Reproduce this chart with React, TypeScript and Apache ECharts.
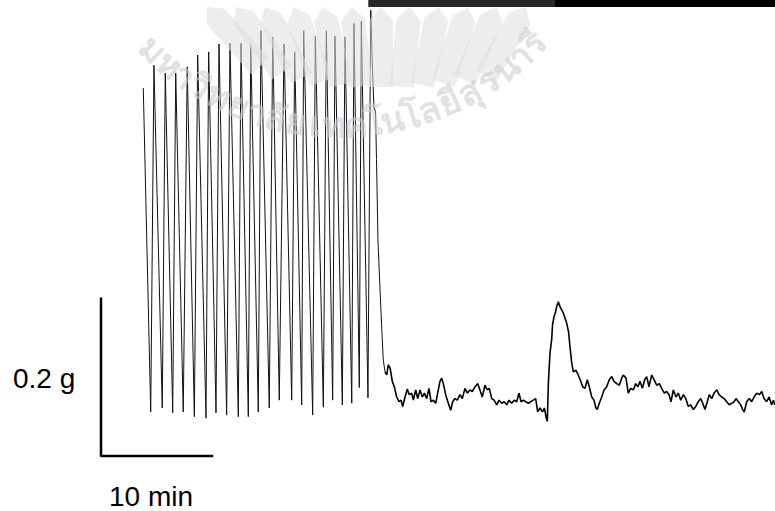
import React, { useEffect, useRef } from "react";
import * as echarts from "echarts";

// ---- Data (time in min, force in g) ----
const peakTimes = [3.81, 4.77, 5.79, 6.73, 7.77, 8.71, 9.70, 10.63, 11.62, 12.61, 13.49, 14.41, 15.47, 16.49, 17.45, 18.26, 19.31, 20.30, 21.08, 21.98, 22.79, 23.45, 24.30];
const peakForces = [0.468, 0.497, 0.487, 0.487, 0.495, 0.510, 0.514, 0.524, 0.525, 0.525, 0.523, 0.541, 0.533, 0.524, 0.514, 0.541, 0.534, 0.541, 0.534, 0.533, 0.550, 0.553, 0.567];
const troughTimes = [4.48, 5.52, 6.46, 7.41, 8.41, 9.46, 10.36, 11.32, 12.37, 13.27, 14.17, 15.16, 16.06, 17.18, 18.08, 19.07, 20.03, 20.87, 21.74, 22.59, 23.27, 24.05];
const troughForces = [0.056, 0.061, 0.055, 0.056, 0.050, 0.048, 0.055, 0.052, 0.050, 0.050, 0.056, 0.061, 0.071, 0.071, 0.065, 0.052, 0.062, 0.071, 0.065, 0.067, 0.087, 0.074];

const dropTimes = [24.46, 24.59, 24.73, 24.82, 24.95, 25.14, 25.32, 25.43, 25.59];
const dropForces = [0.491, 0.443, 0.438, 0.377, 0.275, 0.211, 0.154, 0.122, 0.107];

const baselineTimes = [
  25.74, 25.88, 26.04, 26.13, 26.24, 26.42, 26.64, 26.85, 27.03, 27.18,
  27.39, 27.59, 27.77, 27.99, 28.14, 28.35, 28.53, 28.74, 28.95, 29.13,
  29.34, 29.55, 29.73, 29.94, 30.15, 30.33, 30.54, 30.69, 30.84, 31.05,
  31.29, 31.50, 31.68, 31.89, 32.10, 32.34, 32.55, 32.79, 33.00, 33.24,
  33.45, 33.69, 33.94, 34.14, 34.35, 34.59, 34.80, 34.98, 35.20, 35.41,
  35.65, 35.86, 36.10, 36.33, 36.55, 36.76, 37.00, 37.23, 37.45, 37.66,
  37.84, 38.05, 38.26, 38.50, 38.71, 38.95, 39.16, 39.34, 39.55, 39.76,
  39.94, 40.12, 40.21, 40.30, 40.45, 40.60, 40.68, 40.81, 40.95, 41.05,
  41.20, 41.41, 41.65, 41.95, 42.12, 42.25, 42.41, 42.55, 42.79, 43.00,
  43.22, 43.40, 43.60, 43.81, 43.99, 44.21, 44.41, 44.59, 44.71, 44.89,
  45.11, 45.32, 45.56, 45.79, 46.01, 46.22, 46.46, 46.69, 46.91, 47.05,
  47.30, 47.50, 47.72, 47.95, 48.17, 48.38, 48.56, 48.77, 48.98, 49.16,
  49.37, 49.61, 49.82, 50.06, 50.30, 50.51, 50.75, 50.96, 51.17, 51.35,
  51.56, 51.80, 52.01, 52.23, 52.46, 52.68, 52.91, 53.13, 53.36, 53.58,
  53.81, 54.03, 54.21, 54.41, 54.62, 54.80, 55.02, 55.23, 55.47, 55.68,
  55.92, 56.13, 56.37, 56.60, 56.82, 57.03, 57.21, 57.41, 57.63, 57.81,
  57.95, 58.17, 58.41, 58.62, 58.83, 59.07, 59.31, 59.52, 59.73, 59.97,
  60.18, 60.42, 60.57, 60.72,
];
const baselineForces = [
  0.103, 0.116, 0.112, 0.105, 0.095, 0.088, 0.075, 0.069, 0.071, 0.063,
  0.075, 0.085, 0.078, 0.080, 0.071, 0.084, 0.073, 0.084, 0.075, 0.080,
  0.073, 0.086, 0.069, 0.071, 0.067, 0.080, 0.095, 0.099, 0.092, 0.078,
  0.067, 0.058, 0.069, 0.073, 0.071, 0.078, 0.073, 0.086, 0.080, 0.084,
  0.082, 0.088, 0.092, 0.084, 0.075, 0.090, 0.084, 0.086, 0.073, 0.071,
  0.065, 0.071, 0.067, 0.069, 0.065, 0.071, 0.067, 0.071, 0.069, 0.080,
  0.069, 0.071, 0.069, 0.067, 0.069, 0.071, 0.073, 0.056, 0.061, 0.056,
  0.061, 0.048, 0.044, 0.092, 0.131, 0.148, 0.167, 0.177, 0.183, 0.190,
  0.196, 0.188, 0.182, 0.169, 0.158, 0.139, 0.118, 0.107, 0.109, 0.103,
  0.095, 0.088, 0.086, 0.097, 0.088, 0.075, 0.071, 0.061, 0.059, 0.067,
  0.075, 0.084, 0.088, 0.097, 0.101, 0.095, 0.092, 0.090, 0.099, 0.103,
  0.099, 0.080, 0.086, 0.084, 0.092, 0.088, 0.095, 0.086, 0.097, 0.101,
  0.088, 0.103, 0.097, 0.090, 0.092, 0.086, 0.080, 0.082, 0.078, 0.069,
  0.084, 0.075, 0.080, 0.071, 0.078, 0.073, 0.063, 0.065, 0.059, 0.063,
  0.069, 0.073, 0.067, 0.059, 0.069, 0.078, 0.073, 0.080, 0.084, 0.078,
  0.075, 0.073, 0.069, 0.065, 0.067, 0.069, 0.073, 0.069, 0.065, 0.059,
  0.056, 0.069, 0.073, 0.069, 0.075, 0.080, 0.078, 0.082, 0.073, 0.069,
  0.075, 0.065, 0.071, 0.065,
];

// Drug application bar (min)
const drugBarStart = 24.08;
const drugBarSplit = 40.9;
const drugBarEnd = 60.72;

// Scale bars
const scaleTime = 10; // min
const scaleForce = 0.2; // g
const scaleForceLabel = "0.2 g";
const scaleTimeLabel = "10 min";

// Watermark text (grapheme clusters)
const watermarkClusters = ["ม", "ห", "า", "วิ", "ท", "ย", "า", "ลั", "ย", "เ", "ท", "ค", "โ", "น", "โ", "ล", "ยี", "สุ", "ร", "น", "า", "รี"];

const X_MIN = 0;
const X_MAX = 60.72;
const Y_MIN = -0.07;
const Y_MAX = 0.58;

function buildWatermark(): any[] {
  const els: any[] = [];
  const rays = [
    { x: 207, tilt: -42 }, { x: 236, tilt: -35 }, { x: 265, tilt: -27 },
    { x: 294, tilt: -20 }, { x: 323, tilt: -13 }, { x: 352, tilt: -6 },
    { x: 381, tilt: 0 }, { x: 410, tilt: 6 }, { x: 439, tilt: 12 },
    { x: 468, tilt: 18 }, { x: 497, tilt: 24 }, { x: 526, tilt: 30 },
  ];
  rays.forEach((r) => {
    const w = 24, len = 80, tip = 13;
    els.push({
      type: "polygon",
      x: r.x,
      y: 7,
      rotation: (-r.tilt * Math.PI) / 180,
      z: 20,
      silent: true,
      shape: {
        points: [[0, 0], [w / 2, tip], [w / 2, len], [-w / 2, len], [-w / 2, tip]],
      },
      style: { fill: "rgba(222,222,222,0.55)" },
    });
  });
  const cx = 340, cy = -144, rad = 268;
  const a0 = 134, a1 = 44;
  const weights = watermarkClusters.map((c) => (["า", "เ", "โ"].includes(c) ? 0.7 : 1));
  const total = weights.reduce((s, v) => s + v, 0) - weights[0] / 2 - weights[weights.length - 1] / 2;
  let acc = 0;
  watermarkClusters.forEach((c, i) => {
    if (i > 0) acc += (weights[i - 1] + weights[i]) / 2;
    const deg = a0 + ((a1 - a0) * acc) / total;
    const th = (deg * Math.PI) / 180;
    els.push({
      type: "text",
      x: cx + rad * Math.cos(th),
      y: cy + rad * Math.sin(th),
      rotation: ((90 - deg) * Math.PI) / 180,
      z: 21,
      silent: true,
      style: {
        text: c,
        fill: "rgba(205,205,205,0.6)",
        font: "bold 35px 'Noto Sans', 'DejaVu Sans', sans-serif",
        align: "center",
        verticalAlign: "middle",
      },
    });
  });
  return els;
}

export default function App() {
  const ref = useRef<HTMLDivElement>(null);
  useEffect(() => {
    if (!ref.current) return;
    const chart = echarts.init(ref.current, null, { renderer: "svg" });

    const contraction: number[][] = [];
    peakTimes.forEach((t, i) => {
      contraction.push([t, peakForces[i]]);
      if (i < troughTimes.length) contraction.push([troughTimes[i], troughForces[i]]);
    });
    dropTimes.forEach((t, i) => contraction.push([t, dropForces[i]]));
    const after: number[][] = [[dropTimes[dropTimes.length - 1], dropForces[dropForces.length - 1]]];
    baselineTimes.forEach((t, i) => after.push([t, baselineForces[i]]));

    const barTop = Y_MAX;
    const barBottom = Y_MAX - 7 / 786;

    chart.setOption({
      animation: false,
      backgroundColor: "#ffffff",
      grid: { left: 101, right: 0, top: 0, bottom: 0 },
      xAxis: { type: "value", min: X_MIN, max: X_MAX, show: false },
      yAxis: { type: "value", min: Y_MIN, max: Y_MAX, show: false },
      graphic: [
        ...buildWatermark(),
        {
          type: "text",
          left: 13,
          top: 364,
          z: 10,
          style: { text: scaleForceLabel, fill: "#000", font: "28px 'Liberation Sans', Arial, sans-serif" },
        },
        {
          type: "text",
          left: 109,
          top: 482,
          z: 10,
          style: { text: scaleTimeLabel, fill: "#000", font: "28px 'Liberation Sans', Arial, sans-serif" },
        },
      ],
      series: [
        {
          type: "line",
          data: contraction,
          symbol: "none",
          z: 5,
          lineStyle: { color: "#111", width: 1 },
          markArea: {
            silent: true,
            data: [
              [
                { xAxis: drugBarStart, yAxis: barBottom, itemStyle: { color: "#272727" } },
                { xAxis: drugBarSplit, yAxis: barTop },
              ],
              [
                { xAxis: drugBarSplit, yAxis: barBottom, itemStyle: { color: "#000000" } },
                { xAxis: drugBarEnd, yAxis: barTop },
              ],
            ],
          },
        },
        {
          type: "line",
          data: after,
          symbol: "none",
          z: 5,
          lineStyle: { color: "#000", width: 1.6 },
        },
        {
          type: "line",
          data: [[0, scaleForce], [0, 0], [scaleTime, 0]],
          symbol: "none",
          z: 5,
          lineStyle: { color: "#000", width: 2.5, cap: "square" },
        },
      ],
    });
    return () => chart.dispose();
  }, []);
  return <div ref={ref} style={{ position: "fixed", left: 0, top: 0, width: 775, height: 511 }} />;
}
